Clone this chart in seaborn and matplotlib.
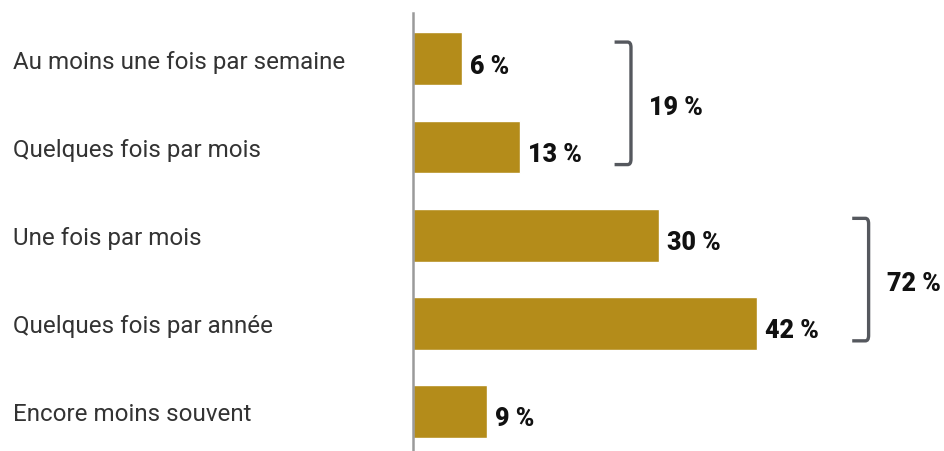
import matplotlib
matplotlib.use("Agg")
import matplotlib.pyplot as plt
import seaborn as sns
import pandas as pd
from matplotlib.path import Path
from matplotlib.patches import PathPatch

categories = ["Au moins une fois par semaine", "Quelques fois par mois", "Une fois par mois",
              "Quelques fois par année", "Encore moins souvent"]
values = [6, 13, 30, 42, 9]
value_labels = ["6 %", "13 %", "30 %", "42 %", "9 %"]
groups = [(0, 1), (2, 3)]
group_labels = ["19 %", "72 %"]

sns.set_theme(style="white")
plt.rcParams['font.family'] = ['Roboto', 'DejaVu Sans']

df = pd.DataFrame({"cat": categories, "val": values})

fig = plt.figure(figsize=(9.44, 4.52), dpi=100)
ax = fig.add_axes([413/944, 0, 531/944, 438/452])
sns.barplot(data=df, y="cat", x="val", orient="h", color="#B48C1A", saturation=1,
            width=0.6, ax=ax)

ax.set_xlim(0, 64.8)
ax.set_ylim(4.45, -0.52)
ax.set_xlabel("")
ax.set_ylabel("")
ax.set_xticks([])
for s in ["top", "right", "bottom"]:
    ax.spines[s].set_visible(False)
ax.spines["left"].set_color("#9a9a9a")
ax.spines["left"].set_linewidth(1.8)
ax.set_yticks(range(len(categories)))
ax.set_yticklabels(categories, ha="left", va="center_baseline", fontsize=17.4, color="#333333")
ax.tick_params(axis="y", length=0, pad=288)

for i, (v, lab) in enumerate(zip(values, value_labels)):
    ax.text(v + 1.0, i + 0.08, lab, va="center", ha="left", fontsize=18,
            fontweight="black", color="#111111")

tick = 2.0
for (a, b), glab in zip(groups, group_labels):
    x = max(values[a:b+1]) + 13.6
    y0 = a - 0.19
    y1 = b + 0.2
    verts = [(x - tick, y0), (x - 0.4, y0), (x, y0), (x, y0 + 0.06),
             (x, y1 - 0.06), (x, y1), (x - 0.4, y1), (x - tick, y1)]
    codes = [Path.MOVETO, Path.LINETO, Path.CURVE3, Path.CURVE3,
             Path.LINETO, Path.CURVE3, Path.CURVE3, Path.LINETO]
    ax.add_patch(PathPatch(Path(verts, codes), fill=False, edgecolor="#55585e",
                           linewidth=2.4, capstyle="butt", clip_on=False))
    ax.text(x + 2.2, (y0 + y1) / 2 + 0.04, glab, va="center", ha="left", fontsize=18,
            fontweight="black", color="#111111")

fig.savefig("out.png", dpi=100)
